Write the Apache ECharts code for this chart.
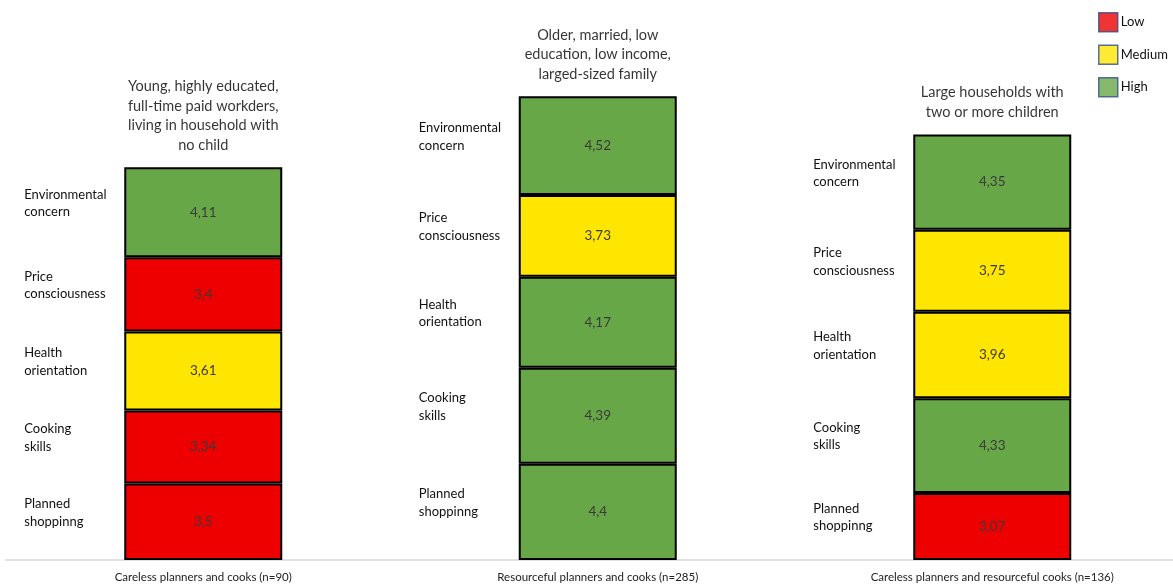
<!DOCTYPE html>
<html>
<head>
<meta charset="utf-8">
<script src="https://cdn.jsdelivr.net/npm/echarts@6/dist/echarts.min.js"></script>
<style>html,body{margin:0;padding:0;background:#fff;}#c{width:1173px;height:585px;}</style>
</head>
<body>
<div id="c"></div>
<script>
const categories = ['Careless planners and cooks (n=90)', 'Resourceful planners and cooks (n=285)', 'Careless planners and resourceful cooks (n=136)'];
const clusterTitles = [
  'Young, highly educated,\nfull-time paid workders,\nliving in household with\nno child',
  'Older, married, low\neducation, low income,\nlarged-sized family',
  'Large households with\ntwo or more children'
];
// bottom to top
const segmentNames = ['Planned\nshoppinng', 'Cooking\nskills', 'Health\norientation', 'Price\nconsciousness', 'Environmental\nconcern'];
const plannedShopping = [3.5, 4.4, 3.07];
const cookingSkills = [3.34, 4.39, 4.33];
const healthOrientation = [3.61, 4.17, 3.96];
const priceConsciousness = [3.4, 3.73, 3.75];
const environmentalConcern = [4.11, 4.52, 4.35];
const plannedLevel = ['Low', 'High', 'Low'];
const cookingLevel = ['Low', 'High', 'High'];
const healthLevel = ['Medium', 'High', 'Medium'];
const priceLevel = ['Low', 'Medium', 'Medium'];
const envLevel = ['High', 'High', 'High'];
const legendLevels = ['Low', 'Medium', 'High'];

const levelColors = { Low: '#ee0000', Medium: '#ffe600', High: '#68a747' };
const FONT = 'Lato, "Open Sans", sans-serif';

const segValues = [plannedShopping, cookingSkills, healthOrientation, priceConsciousness, environmentalConcern];
const segLevels = [plannedLevel, cookingLevel, healthLevel, priceLevel, envLevel];
const totals = categories.map((_, i) => segValues.reduce((s, arr) => s + arr[i], 0));

const series = [];
segValues.forEach((vals, k) => {
  series.push({
    type: 'bar', stack: 'val', name: 'seg' + k, barWidth: 158, barGap: '-100%',
    data: vals.map((v, i) => ({ value: v, itemStyle: { color: levelColors[segLevels[k][i]] } })),
    itemStyle: { borderColor: '#000', borderWidth: 2 },
    label: {
      show: true, position: 'inside', color: '#3a3a3a', fontFamily: FONT, fontSize: 13.5,
      formatter: p => String(p.value).replace('.', ',')
    },
    emphasis: { disabled: true }, z: 3
  });
});
segValues.forEach((vals, k) => {
  series.push({
    type: 'bar', stack: 'lbl', name: 'lbl' + k, barWidth: 158, barGap: '-100%',
    data: vals.slice(),
    itemStyle: { color: 'rgba(0,0,0,0)', borderWidth: 0 },
    label: {
      show: true, position: [-100, '50%'], align: 'left', verticalAlign: 'middle', offset: [0, -9],
      color: '#111', fontFamily: FONT, fontSize: 13, lineHeight: 17.5,
      formatter: () => segmentNames[k]
    },
    emphasis: { disabled: true }, z: 4
  });
});
series.push({
  type: 'scatter', name: 'titles', data: totals, symbol: 'rect', symbolSize: 1,
  itemStyle: { color: 'rgba(0,0,0,0)' },
  label: {
    show: true, position: 'top', distance: 12, align: 'center', color: '#000',
    fontFamily: FONT, fontSize: 14.5, lineHeight: 19.5,
    formatter: p => clusterTitles[p.dataIndex]
  },
  emphasis: { disabled: true }, z: 5
});
legendLevels.forEach(l => {
  series.push({ type: 'scatter', name: l, data: [], itemStyle: { color: levelColors[l] } });
});

const chart = echarts.init(document.getElementById('c'));
chart.setOption({
  backgroundColor: '#fff',
  animation: false,
  legend: {
    data: legendLevels, orient: 'vertical', left: 1093, top: 7,
    icon: 'rect', itemWidth: 19, itemHeight: 19, itemGap: 12,
    itemStyle: { borderColor: '#2f4d8c', borderWidth: 1.5 },
    textStyle: { fontFamily: FONT, fontSize: 13, color: '#111', padding: [0, 0, 0, -2] },
    selectedMode: false
  },
  grid: { left: 6, width: 1183.5, top: 20, bottom: 25, outerBoundsMode: 'none' },
  xAxis: {
    type: 'category', data: categories,
    axisLine: { lineStyle: { color: '#d9d9d9', width: 1.5 } },
    axisTick: { show: false },
    axisLabel: { margin: 11, color: '#222', fontSize: 11.5, fontFamily: FONT }
  },
  yAxis: { type: 'value', min: 0, max: 24.7, show: false, splitLine: { show: false } },
  series
});
</script>
</body>
</html>
